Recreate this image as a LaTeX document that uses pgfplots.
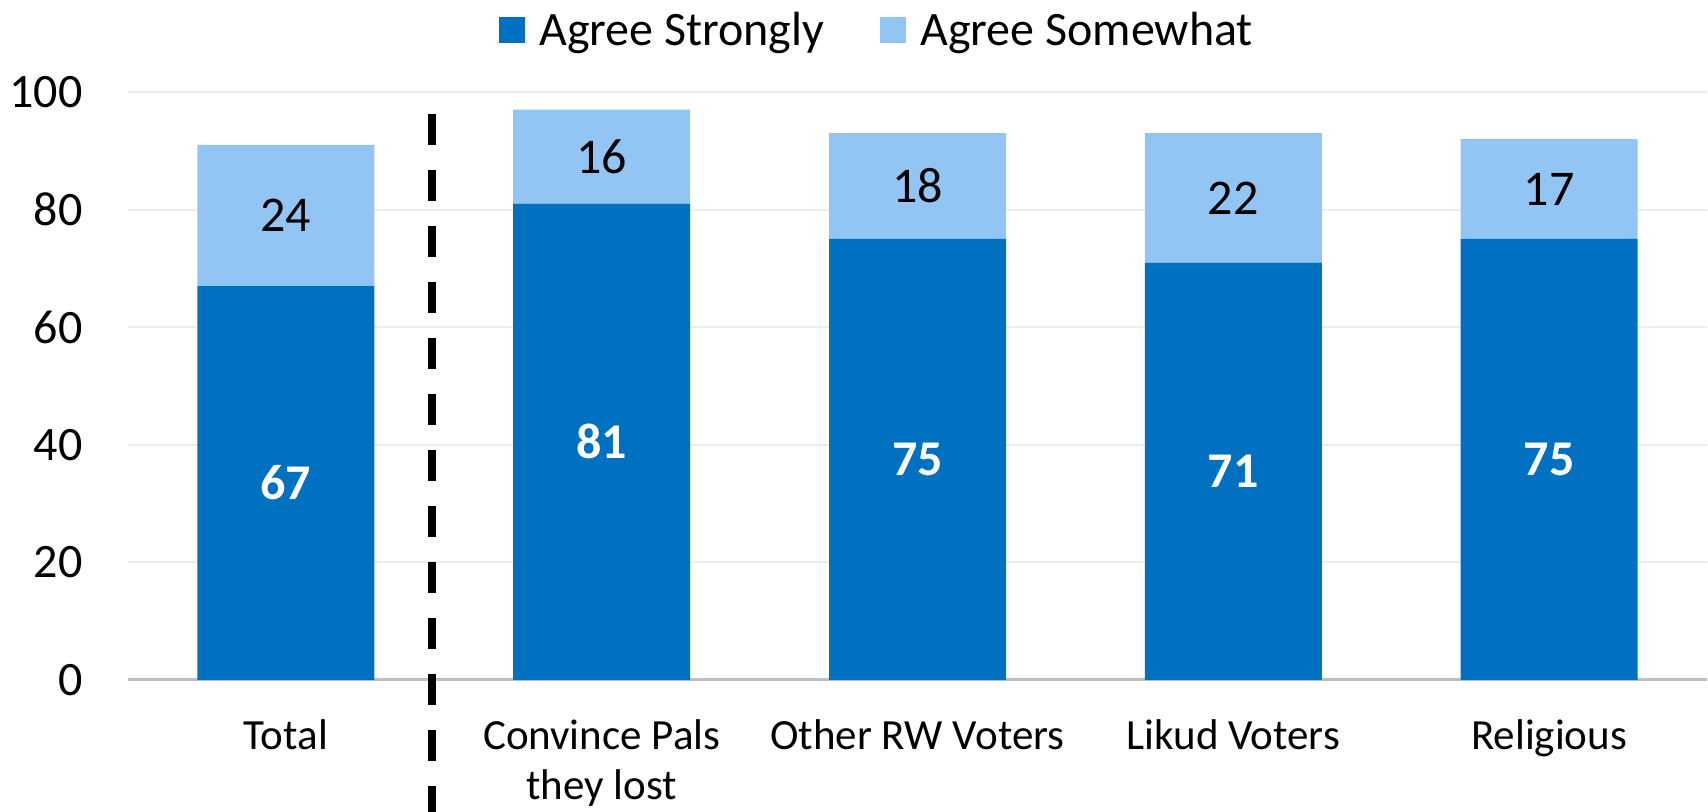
\documentclass[border=0pt]{standalone}
\usepackage{fontspec}
\setmainfont{Carlito}
\usepackage{pgfplots}
\pgfplotsset{compat=1.18}
\definecolor{dblue}{HTML}{0070C0}
\definecolor{lblue}{HTML}{93C5F4}
\begin{document}
\begin{tikzpicture}
\begin{axis}[
 scale only axis, width=789.5pt, height=294pt,
 xmin=-0.5, xmax=4.5, ymin=0, ymax=100,
 enlargelimits=false,
 ybar stacked, bar width=88.5pt,
 xtick={0,1,2,3,4},
 xticklabels={Total, {Convince Pals\\they lost}, Other RW Voters, Likud Voters, Religious},
 ytick={0,20,40,60,80,100},
 major tick length=0pt,
 ymajorgrids, grid style={draw=black!7, line width=1pt},
 axis x line*=bottom, axis y line*=left,
 x axis line style={draw=black!25, line width=1.5pt, -},
 y axis line style={draw=none},
 /pgf/number format/assume math mode=true,
 yticklabel style={font=\fontsize{24}{28}\selectfont, anchor=east, inner sep=0pt, xshift=-22.5pt},
 xticklabel style={font=\fontsize{21.5}{25}\selectfont, align=center, anchor=north, inner sep=0pt, yshift=-19.5pt},
 clip=false,
 nodes near coords,
 every node near coord/.append style={anchor=center},
 legend columns=2,
 legend style={at={(0.475,1)}, anchor=center, yshift=31pt, draw=none, fill=none,
   font=\fontsize{24}{28}\selectfont,
   /tikz/every even column/.append style={column sep=26pt}},
 legend image code/.code={\fill[#1] (0pt,-6.5pt) rectangle (13pt,6.5pt);},
]
\addplot[fill=dblue, draw=none, every node near coord/.append style={text=white, font=\bfseries\fontsize{25}{30}\selectfont}] coordinates {(0,67) (1,81) (2,75) (3,71) (4,75)};
\addplot[fill=lblue, draw=none, every node near coord/.append style={text=black, font=\fontsize{25}{30}\selectfont}] coordinates {(0,24) (1,16) (2,18) (3,22) (4,17)};
\legend{\hspace{5pt}Agree Strongly, \hspace{5pt}Agree Somewhat}
\draw[line width=4pt, dash pattern=on 15.5pt off 12.5pt] (axis cs:0.462,96.3) -- (axis cs:0.462,-22.5);
\coordinate (bl) at (rel axis cs:0,0);
\coordinate (tr) at (rel axis cs:1,1);
\end{axis}
\pgfresetboundingbox
\path ([shift={(-64pt,-66pt)}]bl) rectangle ([shift={(0.5pt,46pt)}]tr);
\end{tikzpicture}
\end{document}
